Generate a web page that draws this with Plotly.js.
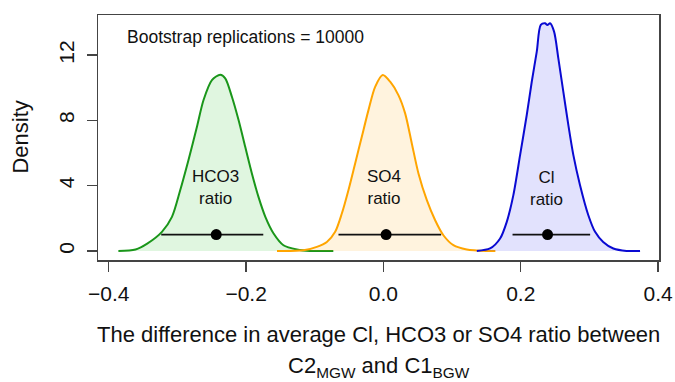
<!DOCTYPE html>
<html>
<head>
<meta charset="utf-8">
<script src="https://cdn.plot.ly/plotly-3.0.1.min.js"></script>
<style>body{margin:0;padding:0;background:#fff}#chart{width:675px;height:382px}</style>
</head>
<body>
<div id="chart"></div>
<script>
// HCO3 ratio density
const hco3X = [-0.386,-0.361,-0.344,-0.3226,-0.308,-0.296,-0.284,-0.2716,-0.262,-0.2498,-0.2377,-0.2304,-0.2207,-0.211,-0.2013,-0.1916,-0.182,-0.172,-0.160,-0.1456,-0.126,-0.107,-0.073];
const hco3Y = [0,0.09,0.45,1.17,2.09,3.72,5.56,7.61,9.25,10.47,10.8,10.58,9.45,8.02,6.38,4.75,3.31,2.09,1.07,0.35,0.09,0,0];
// SO4 ratio density
const so4X = [-0.155,-0.1164,-0.097,-0.0824,-0.0703,-0.0606,-0.051,-0.0412,-0.0315,-0.0218,-0.0121,-0.001,0.0098,0.0218,0.0316,0.0413,0.051,0.0632,0.0753,0.0873,0.1019,0.1214,0.1505,0.163];
const so4Y = [0,0.04,0.25,0.55,1.17,2.29,3.72,5.36,7.0,8.63,10.06,10.78,10.37,9.55,8.43,6.59,4.75,3.11,1.88,0.96,0.35,0.09,0,0];
// Cl ratio density
const clX = [0.136,0.1553,0.1699,0.1796,0.1892,0.199,0.2087,0.216,0.2233,0.2291,0.2354,0.2387,0.2426,0.2485,0.2547,0.262,0.2693,0.2766,0.2863,0.2984,0.3082,0.32,0.3348,0.354,0.3737];
const clY = [0,0.15,0.76,1.78,3.42,5.87,8.33,10.37,12.21,13.85,13.95,13.85,13.95,13.44,11.8,9.75,7.71,5.87,4.03,2.19,1.17,0.55,0.15,0,0];
// Bootstrap means and intervals (drawn at density = 1)
const groupNames = ["HCO3", "SO4", "Cl"];
const meanVals = [-0.2435, 0.0039, 0.239];
const lowerVals = [-0.3236, -0.0655, 0.188];
const upperVals = [-0.175, 0.084, 0.301];
const intervalLevel = [1, 1, 1];
const labelX = [-0.245, 0.001, 0.237];
const labelY = [3.9, 3.9, 3.85];
const xTicks = [-0.4, -0.2, 0.0, 0.2, 0.4];
const xTickText = ["\u22120.4", "\u22120.2", "0.0", "0.2", "0.4"];
const yTicks = [0, 4, 8, 12];

const lineColors = ["#1a961a", "#ffa500", "#0a0ad2"];
const fillColors = ["rgba(34,190,34,0.14)", "rgba(255,165,0,0.13)", "rgba(60,60,240,0.15)"];
const xs = [hco3X, so4X, clX];
const ys = [hco3Y, so4Y, clY];

const traces = [];
for (let i = 0; i < 3; i++) {
  traces.push({
    x: xs[i], y: ys[i], type: "scatter", mode: "lines",
    line: {color: lineColors[i], width: 2, shape: "spline", smoothing: 0.8},
    fill: "tozeroy", fillcolor: fillColors[i], hoverinfo: "skip", showlegend: false
  });
}
for (let i = 0; i < 3; i++) {
  traces.push({
    x: [lowerVals[i], upperVals[i]], y: [intervalLevel[i], intervalLevel[i]],
    type: "scatter", mode: "lines", line: {color: "#111", width: 1.6},
    showlegend: false, hoverinfo: "skip"
  });
}
traces.push({
  x: meanVals, y: intervalLevel, type: "scatter", mode: "markers",
  marker: {color: "#000", size: 11}, showlegend: false, hoverinfo: "skip"
});

const font = "Liberation Sans, Arial, sans-serif";
const annotations = [
  {xref: "paper", yref: "paper", x: 0.0476, y: 0.91, xanchor: "left", yanchor: "middle",
   text: "Bootstrap replications = 10000", showarrow: false, font: {family: font, size: 17.5, color: "#111"}},
  {xref: "paper", yref: "paper", x: 0.5, y: -0.305, xanchor: "center", yanchor: "middle",
   text: "The difference in average Cl, HCO3 or SO4 ratio between", showarrow: false, font: {family: font, size: 22, color: "#111"}},
  {xref: "paper", yref: "paper", x: 0.5, y: -0.437, xanchor: "center", yanchor: "middle",
   text: "C2<sub>MGW</sub> and C1<sub>BGW</sub>", showarrow: false, font: {family: font, size: 22, color: "#111"}},
  {xref: "paper", yref: "paper", x: -0.139, y: 0.5, xanchor: "center", yanchor: "middle", textangle: -90,
   text: "Density", showarrow: false, font: {family: font, size: 22, color: "#111"}}
];
for (let i = 0; i < 3; i++) {
  annotations.push({x: labelX[i], y: labelY[i], xref: "x", yref: "y", xanchor: "center", yanchor: "middle",
    text: groupNames[i] + "<br>ratio", showarrow: false, font: {family: font, size: 17, color: "#111"}});
}

const layout = {
  width: 675, height: 382,
  margin: {l: 98, r: 16, t: 15, b: 122},
  paper_bgcolor: "#fff", plot_bgcolor: "#fff",
  showlegend: false,
  xaxis: {range: [-0.4157, 0.4013], tickvals: xTicks, ticktext: xTickText, ticks: "outside", ticklen: 10,
    tickwidth: 1.3, tickcolor: "#444", showline: true, mirror: true, linecolor: "#444", linewidth: 1.5,
    showgrid: false, zeroline: false, tickfont: {family: font, size: 21, color: "#111"}, ticklabelstandoff: 4},
  yaxis: {range: [-0.556, 14.46], tickvals: yTicks, ticks: "outside", ticklen: 10, tickangle: -90,
    tickwidth: 1.3, tickcolor: "#444", showline: true, mirror: true, linecolor: "#444", linewidth: 1.5,
    showgrid: false, zeroline: false, tickfont: {family: font, size: 21, color: "#111"}, ticklabelstandoff: 4},
  annotations: annotations
};

Plotly.newPlot("chart", traces, layout, {displayModeBar: false, staticPlot: true});
</script>
</body>
</html>
